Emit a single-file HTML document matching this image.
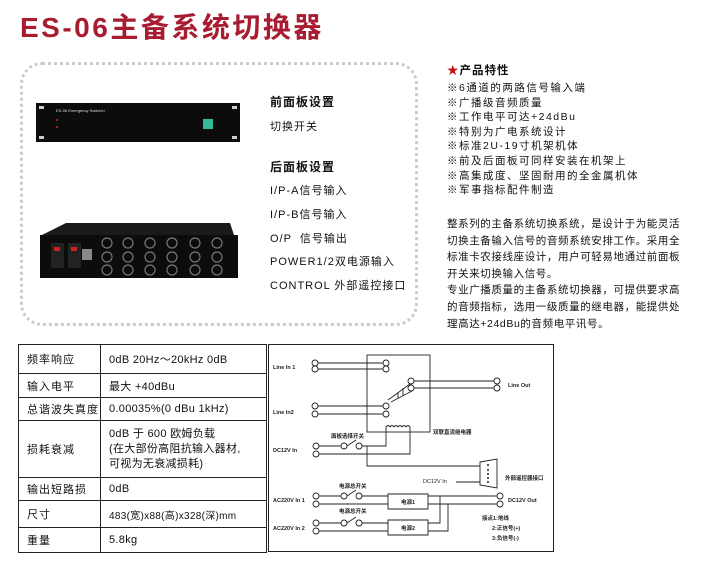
<!DOCTYPE html>
<html><head><meta charset="utf-8"><style>
body{margin:0;background:#fff;}
#p{position:relative;width:704px;height:568px;overflow:hidden;font-family:"Liberation Sans","Noto Sans CJK SC",sans-serif;color:#111;}
.a{position:absolute;white-space:nowrap;}
.t{font-size:11px;letter-spacing:1px;}
.f{font-size:10.5px;letter-spacing:1.5px;line-height:14.6px;}
.pp{font-size:10.5px;letter-spacing:0.6px;line-height:16.6px;}
table{position:absolute;left:18px;top:344px;border-collapse:collapse;font-size:11px;}
td{border:1.5px solid #222;padding:0 0 0 8px;letter-spacing:1px;}
td+td{letter-spacing:0.3px;}
</style></head><body><div id="p">
<div class="a" style="left:20px;top:6px;font-size:28px;font-weight:bold;color:#a81c32;letter-spacing:2.5px;">ES-06主备系统切换器</div>
<div class="a" style="left:20px;top:62px;width:398px;height:264px;border:3px dotted #ccc;border-radius:22px;box-sizing:border-box;"></div>
<svg class="a" style="left:0;top:0" width="704" height="568">
<rect x="36" y="103" width="204" height="39" fill="#0c0c0c"/>
<rect x="39" y="106" width="5" height="3" fill="#ccc"/><rect x="39" y="136" width="5" height="3" fill="#ccc"/>
<rect x="232" y="106" width="5" height="3" fill="#ccc"/><rect x="232" y="136" width="5" height="3" fill="#ccc"/>
<text x="56" y="112" font-size="4" fill="#ddd" font-family="Liberation Sans">ES-06 Emergency Switcher</text>
<circle cx="57" cy="120" r="1" fill="#d22"/><circle cx="57" cy="127" r="1" fill="#d22"/>
<rect x="203" y="119" width="10" height="10" fill="#3b9"/>
<path d="M66 223 L230 223 L234 235 L42 235 Z" fill="#1a1a1a"/>
<rect x="40" y="235" width="198" height="43" fill="#0c0c0c"/>
<rect x="51" y="243" width="13" height="25" fill="#222"/><rect x="54" y="247" width="6" height="4" fill="#c22"/>
<rect x="68" y="243" width="13" height="25" fill="#222"/><rect x="71" y="247" width="6" height="4" fill="#c22"/>
<rect x="82" y="249" width="10" height="11" fill="#888"/>
<g fill="none" stroke="#777" stroke-width="1.2">
<circle cx="107" cy="243" r="5"/><circle cx="107" cy="257" r="5"/><circle cx="107" cy="270" r="5"/>
<circle cx="128" cy="243" r="5"/><circle cx="128" cy="257" r="5"/><circle cx="128" cy="270" r="5"/>
<circle cx="150" cy="243" r="5"/><circle cx="150" cy="257" r="5"/><circle cx="150" cy="270" r="5"/>
<circle cx="172" cy="243" r="5"/><circle cx="172" cy="257" r="5"/><circle cx="172" cy="270" r="5"/>
<circle cx="195" cy="243" r="5"/><circle cx="195" cy="257" r="5"/><circle cx="195" cy="270" r="5"/>
<circle cx="217" cy="243" r="5"/><circle cx="217" cy="257" r="5"/><circle cx="217" cy="270" r="5"/>
</g>
<rect x="268.5" y="344.5" width="285" height="207" fill="none" stroke="#222" stroke-width="1"/>
<g fill="none" stroke="#222" stroke-width="0.9">
<rect x="367" y="355" width="63" height="77"/>
<path d="M318 363H383M318 369H383M318 406H383M318 414H383M414 381H494M414 388H494"/>
<path d="M388 400L410 384M391 402L412 391M398 392V398M403 388V396"/>
<path d="M386 427q2-3 4 0q2-3 4 0q2-3 4 0q2-3 4 0q2-3 4 0q2-3 4 0"/>
<path d="M386 427V446H362M410 427V454H319M319 446H341M347 446L356 440M367 446V466H480"/>
<path d="M480 462L497 459V488L480 485Z"/>
<path d="M456 482H480"/>
<path d="M319 496H341M347 496L356 490M361 496H388M428 496H497M319 504H388M428 504H497M388 494H428V509H388Z"/>
<path d="M319 523H341M347 523L356 517M361 523H388M319 531H388M388 520H428V535H388ZM428 523H440V496M428 531H448V504"/>
</g>
<g fill="#fff" stroke="#222" stroke-width="0.9">
<circle cx="315" cy="363" r="3"/><circle cx="315" cy="369" r="3"/><circle cx="386" cy="363" r="3"/><circle cx="386" cy="369" r="3"/>
<circle cx="315" cy="406" r="3"/><circle cx="315" cy="414" r="3"/><circle cx="386" cy="406" r="3"/><circle cx="386" cy="414" r="3"/>
<circle cx="411" cy="381" r="3"/><circle cx="411" cy="388" r="3"/><circle cx="497" cy="381" r="3"/><circle cx="497" cy="388" r="3"/>
<circle cx="316" cy="446" r="3"/><circle cx="316" cy="454" r="3"/><circle cx="344" cy="446" r="3"/><circle cx="359" cy="446" r="3"/>
<circle cx="316" cy="496" r="3"/><circle cx="316" cy="504" r="3"/><circle cx="344" cy="496" r="3"/><circle cx="359" cy="496" r="3"/><circle cx="500" cy="496" r="3"/><circle cx="500" cy="504" r="3"/>
<circle cx="316" cy="523" r="3"/><circle cx="316" cy="531" r="3"/><circle cx="344" cy="523" r="3"/><circle cx="359" cy="523" r="3"/>
</g>
<g fill="#222"><circle cx="488" cy="465" r="1"/><circle cx="488" cy="470" r="1"/><circle cx="488" cy="474" r="1"/><circle cx="488" cy="478" r="1"/><circle cx="488" cy="482" r="1"/></g>
<g font-size="5.5" font-weight="bold" fill="#222" font-family="Liberation Sans,Noto Sans CJK SC,sans-serif">
<text x="273" y="369">Line In 1</text><text x="273" y="414">Line In2</text><text x="508" y="387">Line Out</text>
<text x="433" y="434">双联直流继电器</text><text x="331" y="438">面板选择开关</text><text x="273" y="452">DC12V In</text>
<text x="505" y="480">外部遥控器接口</text><text x="423" y="483" font-weight="normal">DC12V In</text>
<text x="339" y="488">电源总开关</text><text x="339" y="513">电源总开关</text>
<text x="273" y="502">AC220V In 1</text><text x="273" y="530">AC220V In 2</text>
<text x="401" y="504">电源1</text><text x="401" y="530">电源2</text><text x="508" y="502">DC12V Out</text>
<text x="482" y="520">接点1:地线</text><text x="492" y="530">2:正信号(+)</text><text x="492" y="540">3:负信号(-)</text>
</g>
</svg>
<div class="a t" style="left:270px;top:93px;font-size:12px;font-weight:bold;">前面板设置</div>
<div class="a t" style="left:270px;top:118px;">切换开关</div>
<div class="a t" style="left:270px;top:158px;font-size:12px;font-weight:bold;">后面板设置</div>
<div class="a t" style="left:270px;top:182px;">I/P-A信号输入</div>
<div class="a t" style="left:270px;top:206px;">I/P-B信号输入</div>
<div class="a t" style="left:270px;top:230px;">O/P &nbsp;信号输出</div>
<div class="a t" style="left:270px;top:253px;">POWER1/2双电源输入</div>
<div class="a t" style="left:270px;top:277px;">CONTROL 外部遥控接口</div>
<div class="a" style="left:447px;top:62px;font-size:11.5px;font-weight:bold;letter-spacing:1px;"><span style="color:#c11">★</span>产品特性</div>
<div class="a f" style="left:447px;top:81px;">※6通道的两路信号输入端<br>※广播级音频质量<br>※工作电平可达+24dBu<br>※特别为广电系统设计<br>※标准2U-19寸机架机体<br>※前及后面板可同样安装在机架上<br>※高集成度、坚固耐用的全金属机体<br>※军事指标配件制造</div>
<div class="a pp" style="left:447px;top:216px;">整系列的主备系统切换系统，是设计于为能灵活<br>切换主备输入信号的音频系统安排工作。采用全<br>标准卡农接线座设计，用户可轻易地通过前面板<br>开关来切换输入信号。<br>专业广播质量的主备系统切换器，可提供要求高<br>的音频指标，选用一级质量的继电器，能提供处<br>理高达+24dBu的音频电平讯号。</div>
<table>
<tr style="height:29px"><td style="width:73px">频率响应</td><td style="width:157px">0dB 20Hz～20kHz 0dB</td></tr>
<tr style="height:24px"><td>输入电平</td><td>最大 +40dBu</td></tr>
<tr style="height:23px"><td>总谐波失真度</td><td>0.00035%(0 dBu 1kHz)</td></tr>
<tr style="height:57px"><td>损耗衰减</td><td style="line-height:15px">0dB 于 600 欧姆负载<br>(在大部份高阻抗输入器材,<br>可视为无衰减损耗)</td></tr>
<tr style="height:23px"><td>输出短路损</td><td>0dB</td></tr>
<tr style="height:27px"><td>尺寸</td><td style="font-size:10px">483(宽)x88(高)x328(深)mm</td></tr>
<tr style="height:25px"><td>重量</td><td>5.8kg</td></tr>
</table>
</div></body></html>
